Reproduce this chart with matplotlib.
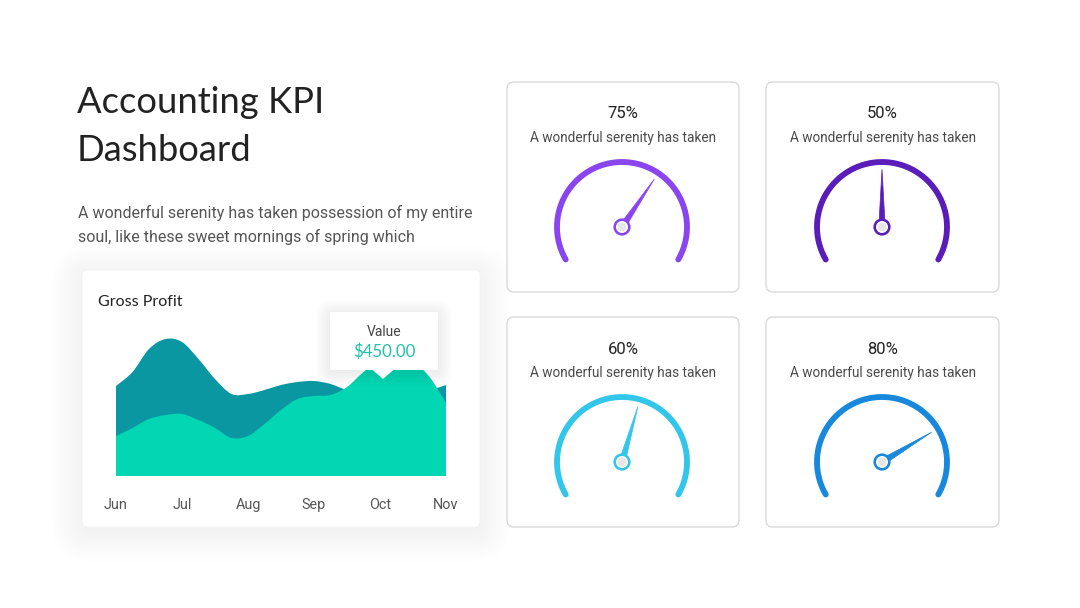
import numpy as np
import matplotlib
matplotlib.use("Agg")
import matplotlib.pyplot as plt
from matplotlib.patches import FancyBboxPatch, PathPatch, Polygon, Circle
from matplotlib.path import Path

W, H = 1080, 608

# ---------------- data ----------------
months = ["Jun", "Jul", "Aug", "Sep", "Oct", "Nov"]
sample_x = [0, 0.25, 0.5, 0.75, 1, 1.25, 1.5, 1.75, 2, 2.25, 2.5, 2.75,
            3, 3.25, 3.5, 3.75, 4, 4.25, 4.5, 4.75, 5]
dark_vals = [90, 104, 127, 137, 134, 117, 97, 82, 82, 86, 91, 94,
             95, 92, 86, 84, 83, 83, 84, 86, 91]
green_vals = [40, 48, 57, 61, 62, 56, 48, 38, 40, 52, 66, 77,
              80, 81, 89, 104, 116, 118, 114, 99, 73]
tooltip_label = "Value"
tooltip_value = "$450.00"

gauge_pcts = [75, 50, 60, 80]
gauge_needle_deg = [56, 90, 74, 31]
gauge_colors = ["#8a45ee", "#5a1db9", "#33c6eb", "#1788dc"]
gauge_caption = "A wonderful serenity has taken"

title_lines = ["Accounting KPI", "Dashboard"]
desc_lines = ["A wonderful serenity has taken possession of my entire",
              "soul, like these sweet mornings of spring which"]

DARK = "#0a97a2"
GREEN = "#02d6b3"

# ---------------- figure ----------------
fig = plt.figure(figsize=(W / 100, H / 100), dpi=100)
fig.patch.set_facecolor("white")

bg = fig.add_axes([0, 0, 1, 1])
bg.set_xlim(0, W)
bg.set_ylim(H, 0)
bg.axis("off")


def rrect(ax, x0, y0, x1, y1, r, **kw):
    p = FancyBboxPatch((x0, y0), x1 - x0, y1 - y0,
                       boxstyle=f"round,pad=0,rounding_size={r}", **kw)
    ax.add_patch(p)
    return p


# title & description
bg.text(77, 113, title_lines[0], fontsize=26.2, family="Lato", color="#222222",
        va="baseline", ha="left")
bg.text(77, 161, title_lines[1], fontsize=26.2, family="Lato", color="#222222",
        va="baseline", ha="left")
bg.text(78, 213, desc_lines[0], fontsize=11.5, family="Roboto", color="#555555",
        va="center", ha="left")
bg.text(78, 237, desc_lines[1], fontsize=11.5, family="Roboto", color="#555555",
        va="center", ha="left")

# chart card with soft shadow
for i in range(12):
    d = 2 + i * 2.5
    rrect(bg, 82 - d, 270 - d + 5, 480 + d, 527 + d + 5, 6 + d,
          facecolor="#000000", edgecolor="none", alpha=0.005)
rrect(bg, 82, 270, 480, 527, 5, facecolor="white", edgecolor="#f2f2f2", lw=0.6)
bg.text(98, 302, "Gross Profit", fontsize=11.5, family="Lato", color="#222222",
        va="center", ha="left")

# gauge cards
card_boxes = [(507, 82, 739, 292), (766, 82, 999, 292),
              (507, 317, 739, 527), (766, 317, 999, 527)]
for (x0, y0, x1, y1), pct in zip(card_boxes, gauge_pcts):
    rrect(bg, x0, y0, x1, y1, 7, facecolor="white", edgecolor="#d6d6d6", lw=0.9)
    cx = (x0 + x1) / 2
    bg.text(cx, y0 + 32, f"{pct}%", fontsize=12, family="Roboto",
            color="#222222", ha="center", va="center")
    bg.text(cx, y0 + 56, gauge_caption, fontsize=9.8, family="Roboto",
            color="#4a4a4a", ha="center", va="center")

# ---------------- area chart ----------------
x_left, x_right, y_base, y_top = 116, 446, 476, 330
ax = fig.add_axes([x_left / W, 1 - y_base / H, (x_right - x_left) / W,
                   (y_base - y_top) / H])
ax.set_xlim(0, 5)
ax.set_ylim(0, 146)
ax.axis("off")


def smooth_area(xs, ys):
    xs = np.asarray(xs, float)
    ys = np.asarray(ys, float)
    pts = np.column_stack([xs, ys])
    n = len(pts)
    verts = [(xs[0], 0), tuple(pts[0])]
    codes = [Path.MOVETO, Path.LINETO]
    for i in range(n - 1):
        p0 = pts[i - 1] if i > 0 else pts[i]
        p1 = pts[i]
        p2 = pts[i + 1]
        p3 = pts[i + 2] if i + 2 < n else pts[i + 1]
        c1 = p1 + (p2 - p0) / 6.0
        c2 = p2 - (p3 - p1) / 6.0
        verts += [tuple(c1), tuple(c2), tuple(p2)]
        codes += [Path.CURVE4] * 3
    verts += [(xs[-1], 0), (xs[0], 0)]
    codes += [Path.LINETO, Path.CLOSEPOLY]
    return Path(verts, codes)


ax.add_patch(PathPatch(smooth_area(sample_x, dark_vals), facecolor=DARK,
                       edgecolor="none"))
ax.add_patch(PathPatch(smooth_area(sample_x, green_vals), facecolor=GREEN,
                       edgecolor="none"))

for i, m in enumerate(months):
    bg.text(x_left + i * (x_right - x_left) / 5, 505, m, fontsize=10.4,
            family="Roboto", color="#555555", ha="center", va="center")

# ---------------- tooltip overlay ----------------
top = fig.add_axes([0, 0, 1, 1], zorder=10)
top.set_xlim(0, W)
top.set_ylim(H, 0)
top.axis("off")
top.patch.set_alpha(0)
for i in range(6):
    d = 1 + i * 2.5
    rrect(top, 330 - d, 312 - d + 2, 438 + d, 370 + d + 2, 2 + d,
          facecolor="#000000", edgecolor="none", alpha=0.010)
rrect(top, 330, 312, 438, 370, 1.5, facecolor="white", edgecolor="none")
top.add_patch(Polygon([(372, 369.5), (394, 369.5), (383, 379)], closed=True,
                      facecolor="white", edgecolor="none"))
top.text(384, 332, tooltip_label, fontsize=10, family="Roboto",
         color="#444444", ha="center", va="center")
top.text(384, 352, tooltip_value, fontsize=12.2, family="Lato",
         color="#1fc4a8", ha="center", va="center")

# ---------------- gauges ----------------
R_PX = 65.0
S = 170
L = S / 2 / R_PX
centers = [(622, 227), (882, 227), (622, 462), (882, 462)]
for (cx, cy), col, ang in zip(centers, gauge_colors, gauge_needle_deg):
    g = fig.add_axes([(cx - S / 2) / W, 1 - (cy + S / 2) / H, S / W, S / H],
                     zorder=5)
    g.set_xlim(-L, L)
    g.set_ylim(-L, L)
    g.axis("off")
    g.patch.set_alpha(0)
    th = np.radians(np.linspace(210, -30, 200))
    g.plot(np.cos(th), np.sin(th), color=col, lw=4.2, solid_capstyle="round")
    a = np.radians(ang)
    tip = 0.89 * np.array([np.cos(a), np.sin(a)])
    perp = np.array([-np.sin(a), np.cos(a)])
    hw = 3.2 / R_PX
    g.add_patch(Polygon([tuple(tip), tuple(perp * hw), tuple(-perp * hw)],
                        closed=True, facecolor=col, edgecolor=col, lw=0.5))
    g.add_patch(Circle((0, 0), 8.6 / R_PX, facecolor=col, edgecolor="none"))
    g.add_patch(Circle((0, 0), 6.0 / R_PX, facecolor="white", edgecolor="none"))
    g.add_patch(Circle((0, 0), 4.4 / R_PX, facecolor="#e6e6e6", edgecolor="none"))

fig.savefig("out.png", dpi=100, facecolor="white")
